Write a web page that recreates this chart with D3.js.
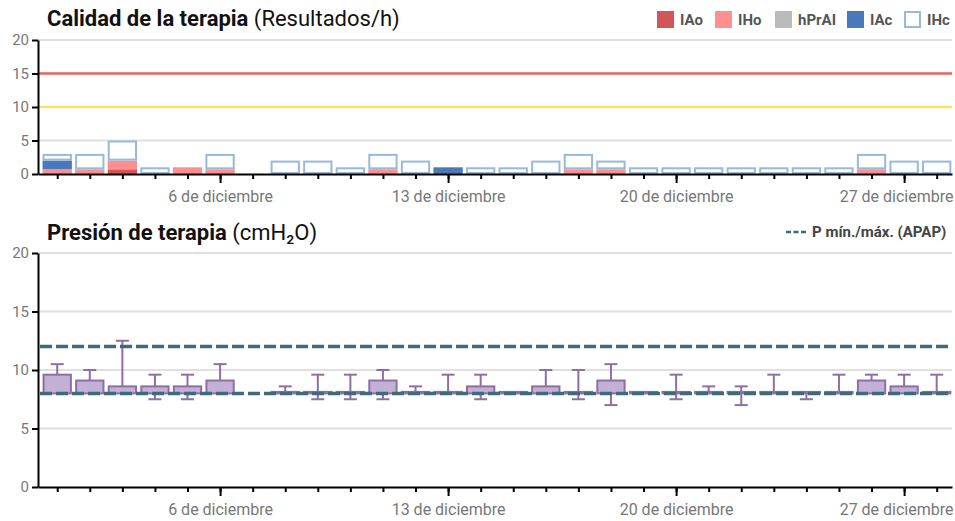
<!DOCTYPE html>
<html>
<head>
<meta charset="utf-8">
<script src="https://cdn.jsdelivr.net/npm/d3@7"></script>
<style>
  body { margin: 0; background: #fff; font-family: Roboto, "Noto Sans", sans-serif; }
  .axis path, .axis line { stroke: #000; stroke-width: 2; }
  .axis text { fill: #777; font-size: 15px; font-family: Roboto, sans-serif; }
  .axis.xlab text { font-size: 16px; }
</style>
</head>
<body>
<script>
// days of December
const days = [1,2,3,4,5,6,7,8,9,10,11,12,13,14,15,16,17,18,19,20,21,22,23,24,25,26,27,28];
const majorDays = [6, 13, 20, 27];

// events per hour
const iao   = [0,0,0.7,0,0,0,0,0,0,0,0,0,0,0,0,0,0,0,0,0,0,0,0,0,0,0,0,0];
const iho   = [0.7,0.7,1.3,0,1,0.7,0,0,0,0,0.7,0,0,0,0,0,0.7,0.7,0,0,0,0,0,0,0,0.7,0,0];
const hprai = [0,0,0,0,0,0,0,0,0,0,0,0,0,0,0,0,0,0,0,0,0,0,0,0,0,0,0,0];
const iac   = [1.3,0,0,0,0,0,0,0,0,0,0,0,1,0,0,0,0,0,0,0,0,0,0,0,0,0,0,0];
const ihc   = [1,2.3,3,1,0,2.3,0,2,2,1,2.3,2,0,1,1,2,2.3,1.3,1,1,1,1,1,1,1,2.3,2,2];

// therapy pressure (cmH2O), null = no use
const pMin = [8,8,8,7.5,7.5,8,null,8,7.5,7.5,7.5,8,8,7.5,8,8,7.5,7,8,7.5,8,7,8,7.5,8,8,8,8];
const pLow = [8,8,8,8,8,8,null,8,8,8,8,8,8,8,8,8,8,8,8,8,8,8,8,8,8,8,8,8];
const pHigh = [9.6,9.1,8.6,8.6,8.6,9.1,null,8,8,8,9.1,8,8,8.6,8,8.6,8,9.1,8,8,8,8,8,8,8,9.1,8.6,8];
const pMax = [10.5,10,12.5,9.6,9.6,10.5,null,8.6,9.6,9.6,10,8.6,9.6,9.6,8,10,10,10.5,8,9.6,8.6,8.6,9.6,8,9.6,9.6,9.6,9.6];

const apapLimits = [8, 12];
const qualityLines = [{v: 15, c: "#e8675f"}, {v: 10, c: "#fde36c"}];
const yTicks = [0, 5, 10, 15, 20];

const legendKeys = ["iao", "iho", "hprai", "iac", "ihc"];
const legendNames = ["IAo", "IHo", "hPrAI", "IAc", "IHc"];
const colors = {iao: "#d4545b", iho: "#fd8f8f", hprai: "#bbbbbb", iac: "#4a78bb", ihc: "#97b9dc"};

const W = 955, H = 521;
const svg = d3.select("body").append("svg").attr("width", W).attr("height", H);

const x = d3.scaleLinear().domain([0.41, 28.47]).range([38, 952]);
const dayW = x(2) - x(1);
const barW = dayW * 0.9;

function drawXAxis(g, y0) {
  g.append("g").attr("class", "axis")
    .attr("transform", "translate(0," + y0 + ")")
    .call(d3.axisBottom(x).tickValues(days).tickSize(5).tickSizeOuter(0).tickFormat(""));
  const lab = g.append("g").attr("class", "axis xlab")
    .attr("transform", "translate(0," + y0 + ")")
    .call(d3.axisBottom(x).tickValues(majorDays).tickSize(9).tickPadding(8).tickSizeOuter(0)
      .tickFormat(d => d + " de diciembre"));
  lab.select(".domain").remove();
  // keep labels inside the chart
  lab.selectAll(".tick text").each(function(d) {
    const half = this.getComputedTextLength() / 2;
    const over = x(d) + half - 953;
    if (over > 0) d3.select(this).attr("x", -over);
  });
}

function drawYAxis(g, y) {
  g.append("g").attr("class", "axis")
    .attr("transform", "translate(38,0)")
    .call(d3.axisLeft(y).tickValues(yTicks).tickSize(6).tickPadding(3).tickSizeOuter(0));
}

function grid(g, y) {
  g.selectAll(".grid").data(yTicks.filter(t => t > 0)).enter()
    .append("line")
    .attr("x1", 38).attr("x2", 952)
    .attr("y1", d => y(d)).attr("y2", d => y(d))
    .attr("stroke", "#e0e0e0").attr("stroke-width", 2);
}

// ---------- top chart ----------
const topChart = svg.append("g");
const yTop = d3.scaleLinear().domain([0, 20]).range([174, 40]);

topChart.append("text").attr("x", 47).attr("y", 26)
  .style("font-size", "22px").style("fill", "#111")
  .call(t => {
    t.append("tspan").style("font-weight", "bold").text("Calidad de la terapia");
    t.append("tspan").text(" (Resultados/h)");
  });

grid(topChart, yTop);

topChart.selectAll(".qline").data(qualityLines).enter()
  .append("line")
  .attr("x1", 38).attr("x2", 952)
  .attr("y1", d => yTop(d.v)).attr("y2", d => yTop(d.v))
  .attr("stroke", d => d.c).attr("stroke-width", 2.5);

const table = days.map((d, i) => ({day: d, iao: iao[i], iho: iho[i], hprai: hprai[i], iac: iac[i], ihc: ihc[i]}));
const series = d3.stack().keys(legendKeys)(table);

series.forEach(s => {
  const filled = s.key !== "ihc";
  topChart.append("g").selectAll("rect")
    .data(s.filter(p => p[1] - p[0] > 0))
    .enter().append("rect")
    .attr("x", p => x(p.data.day) - barW / 2 + (filled ? 0 : 1))
    .attr("width", barW - (filled ? 0 : 2))
    .attr("y", p => yTop(p[1]) + (filled ? 0 : 1))
    .attr("height", p => yTop(p[0]) - yTop(p[1]) - (filled ? 0 : 2))
    .attr("fill", filled ? colors[s.key] : "#fff")
    .attr("stroke", filled ? "none" : colors[s.key])
    .attr("stroke-width", 2);
});

drawXAxis(topChart, 174);
drawYAxis(topChart, yTop);

// legend
const legX = [657, 715, 775, 847, 904];
const leg = topChart.selectAll(".leg").data(legendKeys).enter().append("g")
  .attr("transform", (d, i) => "translate(" + legX[i] + ",11)");
leg.append("rect")
  .attr("x", d => d === "ihc" ? 1 : 0).attr("y", d => d === "ihc" ? 1 : 0)
  .attr("width", d => d === "ihc" ? 15 : 17).attr("height", d => d === "ihc" ? 15 : 17)
  .attr("fill", d => d === "ihc" ? "#fff" : colors[d])
  .attr("stroke", d => d === "ihc" ? colors[d] : "none").attr("stroke-width", 2);
leg.append("text").attr("x", 23).attr("y", 14)
  .style("font-size", "15px").style("font-weight", "bold").style("fill", "#555")
  .text((d, i) => legendNames[i]);

// ---------- bottom chart ----------
const bot = svg.append("g");
const yBot = d3.scaleLinear().domain([0, 20]).range([487, 253]);

bot.append("text").attr("x", 47).attr("y", 240)
  .style("font-size", "22px").style("fill", "#111")
  .call(t => {
    t.append("tspan").style("font-weight", "bold").text("Presión de terapia");
    t.append("tspan").text(" (cmH\u2082O)");
  });

grid(bot, yBot);

const boxes = days.map((d, i) => ({day: d, min: pMin[i], lo: pLow[i], hi: pHigh[i], max: pMax[i]}))
  .filter(b => b.lo !== null);

const purple = "#8f6ea8";
const capW = 13;
const bg = bot.selectAll(".box").data(boxes).enter().append("g");

// upper whisker
bg.filter(b => b.max > b.hi).append("line")
  .attr("x1", b => x(b.day)).attr("x2", b => x(b.day))
  .attr("y1", b => yBot(b.hi)).attr("y2", b => yBot(b.max))
  .attr("stroke", purple).attr("stroke-width", 2);
bg.filter(b => b.max > b.hi).append("line")
  .attr("x1", b => x(b.day) - capW / 2).attr("x2", b => x(b.day) + capW / 2)
  .attr("y1", b => yBot(b.max)).attr("y2", b => yBot(b.max))
  .attr("stroke", purple).attr("stroke-width", 2);
// lower whisker
bg.filter(b => b.min < b.lo).append("line")
  .attr("x1", b => x(b.day)).attr("x2", b => x(b.day))
  .attr("y1", b => yBot(b.lo)).attr("y2", b => yBot(b.min))
  .attr("stroke", purple).attr("stroke-width", 2);
bg.filter(b => b.min < b.lo).append("line")
  .attr("x1", b => x(b.day) - capW / 2).attr("x2", b => x(b.day) + capW / 2)
  .attr("y1", b => yBot(b.min)).attr("y2", b => yBot(b.min))
  .attr("stroke", purple).attr("stroke-width", 2);
// box
bg.append("rect")
  .attr("x", b => x(b.day) - barW / 2 + 1)
  .attr("width", barW - 2)
  .attr("y", b => Math.min(yBot(b.hi), yBot(b.lo) - 1.5))
  .attr("height", b => Math.max(1.5, yBot(b.lo) - yBot(b.hi)))
  .attr("fill", "#c3b1d5").attr("stroke", purple).attr("stroke-width", 2);

// APAP limits
bot.selectAll(".apap").data(apapLimits).enter().append("line")
  .attr("x1", 40).attr("x2", 952)
  .attr("y1", d => yBot(d)).attr("y2", d => yBot(d))
  .attr("stroke", "#3e6b7a").attr("stroke-width", 3.5)
  .attr("stroke-dasharray", "12,4");

drawXAxis(bot, 487);
drawYAxis(bot, yBot);

// legend
bot.append("line").attr("x1", 786).attr("x2", 806).attr("y1", 232).attr("y2", 232)
  .attr("stroke", "#3e6b7a").attr("stroke-width", 2.5).attr("stroke-dasharray", "5,2.5");
bot.append("text").attr("x", 812).attr("y", 237)
  .style("font-size", "15px").style("font-weight", "bold").style("fill", "#444")
  .text("P mín./máx. (APAP)");
</script>
</body>
</html>
